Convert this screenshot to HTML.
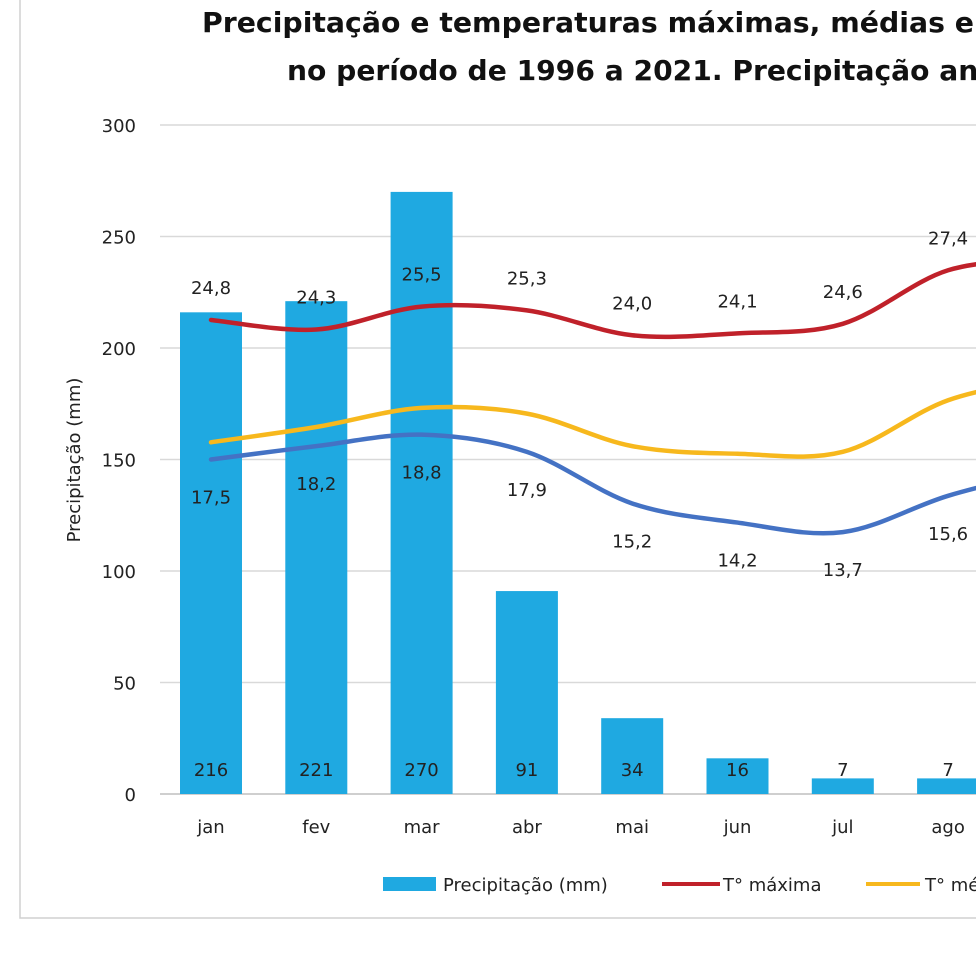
<!DOCTYPE html>
<html><head><meta charset="utf-8"><style>
html,body{margin:0;padding:0;background:#fff;width:976px;height:962px;overflow:hidden}
svg{display:block;font-family:"DejaVu Sans","Liberation Sans",sans-serif}
</style></head><body>
<svg id="c" width="976" height="962" xmlns="http://www.w3.org/2000/svg">
<rect x="20" y="-10" width="1000" height="928" fill="#fff" stroke="#d0d0d0" stroke-width="1.5"/>
<text x="202" y="32" font-size="28" font-weight="bold" fill="#111" textLength="772" lengthAdjust="spacingAndGlyphs">Precipitação e temperaturas máximas, médias e</text>
<text x="990" y="32" font-size="28" font-weight="bold" fill="#111">mínimas</text>
<text x="287" y="80" font-size="28" font-weight="bold" fill="#111" textLength="740" lengthAdjust="spacingAndGlyphs">no período de 1996 a 2021. Precipitação anual</text>
<text transform="translate(80,460) rotate(-90)" text-anchor="middle" font-size="18" fill="#222">Precipitação (mm)</text>
<g id="grid"></g><g id="bars"></g><g id="lines"></g><g id="labels"></g>
<g>
<rect x="383" y="877" width="53" height="14" fill="#1fa9e1"/>
<text x="443" y="891" font-size="18" fill="#222">Precipitação (mm)</text>
<line x1="662" y1="884" x2="720" y2="884" stroke="#c0212a" stroke-width="4"/>
<text x="723" y="891" font-size="18" fill="#222">T° máxima</text>
<line x1="866" y1="884" x2="920" y2="884" stroke="#f7b81d" stroke-width="4"/>
<text x="925" y="891" font-size="18" fill="#222">T° média</text>
</g>
</svg>
<script>
const months=["jan","fev","mar","abr","mai","jun","jul","ago","set"];
const precip=[216,221,270,91,34,16,7,7,20];
const tmax=[24.8,24.3,25.5,25.3,24.0,24.1,24.6,27.4,28.0];
const tavg=[18.4,19.2,20.2,19.9,18.2,17.8,17.9,20.6,21.8];
const tmin=[17.5,18.2,18.8,17.9,15.2,14.2,13.7,15.6,17.0];
const yTicks=[0,50,100,150,200,250,300];
const NS="http://www.w3.org/2000/svg";
const x=i=>211+i*105.3;
const y=v=>794-v*(669/300);
const yt=t=>794-t*(669/35);
function el(tag,attrs,parent,txt){const e=document.createElementNS(NS,tag);for(const k in attrs)e.setAttribute(k,attrs[k]);if(txt!==undefined)e.textContent=txt;document.getElementById(parent).appendChild(e);return e;}
yTicks.forEach(v=>{
 const l=el('line',{x1:160,x2:976,y1:y(v),y2:y(v),stroke:v===0?'#bfbfbf':'#d9d9d9','stroke-width':1.5},'grid');
 
 
 const t=el('text',{x:136,y:y(v)+7,'text-anchor':'end','font-size':18,fill:'#222'},'grid',v);
 
 
});
months.forEach((m,i)=>{
 const t=el('text',{x:x(i),y:833,'text-anchor':'middle','font-size':18,fill:'#222'},'grid',m);
 
 
 const b=el('rect',{x:x(i)-31,y:y(precip[i]),width:62,height:y(0)-y(precip[i]),fill:'#1fa9e1'},'bars');
 
 
 const pl=el('text',{x:x(i),y:776,'text-anchor':'middle','font-size':18,fill:'#222'},'labels',precip[i]);
 
 
});
function smooth(vals){
 const p=vals.map((v,i)=>[x(i),yt(v)]);
 let d='M'+p[0][0]+','+p[0][1];
 for(let i=0;i<p.length-1;i++){
  const p0=p[i-1]||p[i],p1=p[i],p2=p[i+1],p3=p[i+2]||p2,k=1/6;
  d+=' C'+(p1[0]+(p2[0]-p0[0])*k)+','+(p1[1]+(p2[1]-p0[1])*k)+' '+(p2[0]-(p3[0]-p1[0])*k)+','+(p2[1]-(p3[1]-p1[1])*k)+' '+p2[0]+','+p2[1];
 }
 return d;
}
[[tmax,'#c0212a','line-max'],[tavg,'#f7b81d','line-avg'],[tmin,'#4472c4','line-min']].forEach(([s,c,n])=>{
 const p=el('path',{d:smooth(s),fill:'none',stroke:c,'stroke-width':4.5,'stroke-linecap':'round'},'lines');
 
 
});
const fmt=v=>v.toFixed(1).replace('.',',');
months.forEach((m,i)=>{
 const a=el('text',{x:x(i),y:yt(tmax[i])-26,'text-anchor':'middle','font-size':18,fill:'#222'},'labels',fmt(tmax[i]));
 
 
 const b=el('text',{x:x(i),y:yt(tmin[i])+44,'text-anchor':'middle','font-size':18,fill:'#222'},'labels',fmt(tmin[i]));
 
 
});
</script>
</body></html>
